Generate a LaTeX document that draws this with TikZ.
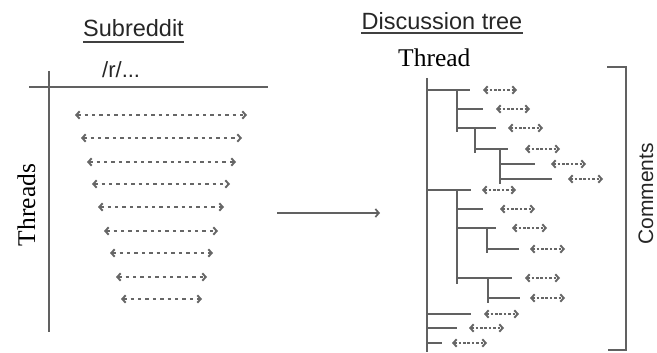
\documentclass[tikz,border=0pt]{standalone}
\usepackage{fontspec}
\setmainfont{Liberation Serif}
\setsansfont{Liberation Sans}
\usetikzlibrary{arrows.meta}
\definecolor{linegray}{HTML}{616161}
\definecolor{dashgray}{HTML}{666666}
\tikzset{
  axisline/.style={draw=linegray, line width=1.9pt},
  treeline/.style={draw=linegray, line width=2pt},
  barb/.tip={Straight Barb[length=3.4pt,width=7.5pt,line width=1.9pt]},
  threadarrow/.style={draw=dashgray, line width=1.2pt, dash pattern=on 3.3pt off 4.1pt, {barb}-{barb}},
  commentarrow/.style={draw=dashgray, line width=1.2pt, dash pattern=on 2.6pt off 1.8pt, {barb}-{barb}},
  heading/.style={font=\sffamily\fontsize{23.5}{25}\selectfont, inner sep=0pt, text=black!85},
  serifhead/.style={font=\rmfamily\fontsize{25.5}{28}\selectfont, inner sep=0pt},
}
\begin{document}
\begin{tikzpicture}[x=1pt, y=-1pt]
  \useasboundingbox (0,0) rectangle (657,353);

  % ---- Subreddit panel ----
  \node[heading, anchor=base] (sub) at (133.5,37) {Subreddit};
  \draw[line width=1.4pt, black!75] ([yshift=-5pt]sub.base west) -- ([yshift=-5pt]sub.base east);
  \node[heading, font=\sffamily\fontsize{22}{24}\selectfont, anchor=base west] (path) at (102,78) {/r/...};

  \coordinate (hl) at (29,87);  \coordinate (hr) at (268,87);
  \coordinate (vt) at (49,71);  \coordinate (vb) at (49,332);
  \draw[axisline] (hl) -- (hr);
  \draw[axisline] (vt) -- (vb);
  \node[serifhead, rotate=90, anchor=base] (threads) at (35,205) {Threads};

  % one dashed double arrow per thread, narrowing downwards
  \foreach \y/\a/\b in {115/75/247, 138/81/242, 162/87/236, 184/92/230, 207/98/224,
                        231/104/218, 253/110/213, 277/116/207, 299/121/202}
    \draw[threadarrow] (\a,\y) -- (\b,\y);

  % ---- transition arrow ----
  \coordinate (from) at (277,213);
  \coordinate (to) at (380,213);
  \draw[draw=linegray, line width=1.7pt, -{Straight Barb[length=3.5pt,width=8pt,line width=1.7pt]}] (from) -- (to);

  % ---- Discussion tree panel ----
  \node[heading, anchor=base] (disc) at (442,30) {Discussion tree};
  \draw[line width=1.4pt, black!75] ([yshift=-3pt]disc.base west) -- ([yshift=-3pt]disc.base east);
  \node[serifhead, anchor=base west] (thread) at (398,67) {Thread};

  % trunk and inner levels of the comment tree
  \draw[treeline] (427,78) -- (427,352);
  \draw[treeline] (457,90) -- (457,132);
  \draw[treeline] (475,128) -- (475,153);
  \draw[treeline] (500,149) -- (500,184);
  \draw[treeline] (457,190) -- (457,284);
  \draw[treeline] (487,228) -- (487,253);
  \draw[treeline] (488,278) -- (488,303);

  % branches (start x, y, end x) with their comment arrows
  \foreach \x/\y/\e/\a/\b in {427/90/470/483/517, 457/109/483/496/530, 457/128/496/508/543,
                              475/149/508/525/560, 500/164/535/551/586, 500/179/552/568/603,
                              427/190/471/482/516, 457/209/483/500/535, 457/228/496/512/547,
                              487/249/519/530/565, 457/278/512/525/560, 488/298/520/530/565,
                              427/314/471/484/519, 427/328/457/469/504, 427/343/442/452/487}
  {
    \draw[treeline] (\x,\y) -- (\e,\y);
    \draw[commentarrow] (\a,\y) -- (\b,\y);
  }

  % bracket grouping the comments
  \draw[draw=linegray, line width=1.7pt] (607,67) -- (626,67) -- (626,350) -- (608,350);
  \node[heading, font=\sffamily\fontsize{21}{23}\selectfont, rotate=90, anchor=base] (comments) at (653,194) {Comments};
\end{tikzpicture}
\end{document}
